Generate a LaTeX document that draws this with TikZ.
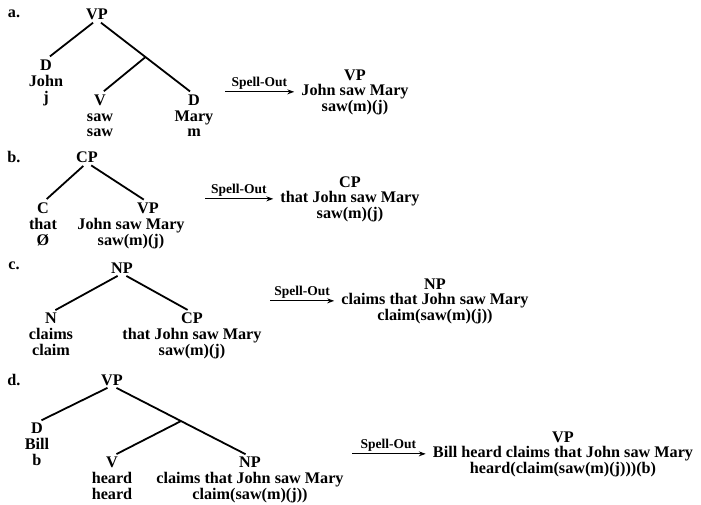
\documentclass[tikz,border=0pt]{standalone}
\usepackage{fontspec}
\setmainfont{Liberation Serif}
\usetikzlibrary{positioning,calc,arrows.meta}

\begin{document}
\begin{tikzpicture}[x=1pt,y=-1pt,
  cat/.style={inner sep=0pt,font={\bfseries\fontsize{16.2}{15.5}\selectfont\lineskiplimit-20pt\relax}},
  lex/.style={cat,align=center},
  branch/.style={line width=1.8pt,shorten <=5pt,shorten >=5pt},
  spell/.style={-{Stealth[length=7pt,width=5pt]},line width=1.1pt,shorten >=7pt},
  spelltext/.style={inner sep=0pt,font=\bfseries\fontsize{13.5}{13.5}\selectfont}]
  \useasboundingbox (0,0) rectangle (701,505);

  \foreach \l/\y in {a/14,b/157,c/266,d/380}
    \node[cat] (lab\l) at (14,\y) {\l.};

  % a.
  \node[cat] (aVP) at (97,14) {VP};
  \node[cat] (aD) at (46,65) {D};
  \node[lex,below=4.6pt of aD] (aDw) {\strut John\\j};
  \node[cat] (aV) at (100,100) {V};
  \node[lex,below=4.6pt of aV] (aVw) {\strut saw\\saw};
  \node[cat] (aDm) at (194,100) {D};
  \node[lex,below=4.6pt of aDm] (aDmw) {\strut Mary\\m};
  \coordinate (aVbar) at ($(aVP.south)!.5!(aDm.north)$);
  \draw[branch] (aVP.south) -- (aD.north);
  \draw[branch] (aVP.south) -- (aDm.north);
  \draw[branch,shorten <=0pt] (aVbar) -- (aV.north);
  \node[lex,anchor=north] (aRes) at (355,69) {\strut VP\\John saw Mary\\saw(m)(j)};
  \coordinate (aSO) at (225,0);
  \draw[spell] (aSO |- aRes.west) -- (aRes.west)
    node[spelltext,pos=.45,above=1.5pt] (aSpell) {Spell-Out};

  % b.
  \node[cat] (bCP) at (87,157) {CP};
  \node[cat] (bC) at (43,208) {C};
  \node[lex,below=4.6pt of bC] (bCw) {\strut that\\Ø};
  \node[cat] (bVP) at (148,208) {VP};
  \node[lex,below=4.6pt of bVP,xshift=-17pt] (bVPw) {\strut John saw Mary\\saw(m)(j)};
  \draw[branch] (bCP.south) -- (bC.north);
  \draw[branch] (bCP.south) -- (bVP.north);
  \node[lex,anchor=north] (bRes) at (350,176) {\strut CP\\that John saw Mary\\saw(m)(j)};
  \coordinate (bSO) at (205,0);
  \draw[spell] (bSO |- bRes.west) -- (bRes.west)
    node[spelltext,pos=.45,above=1.5pt] (bSpell) {Spell-Out};

  % c.
  \node[cat] (cNP) at (122,268) {NP};
  \node[cat] (cN) at (51,318) {N};
  \node[lex,below=4.6pt of cN] (cNw) {\strut claims\\claim};
  \node[cat] (cCP) at (192,318) {CP};
  \node[lex,below=4.6pt of cCP] (cCPw) {\strut that John saw Mary\\saw(m)(j)};
  \draw[branch] (cNP.south) -- (cN.north);
  \draw[branch] (cNP.south) -- (cCP.north);
  \node[lex,anchor=north] (cRes) at (435,278) {\strut NP\\claims that John saw Mary\\claim(saw(m)(j))};
  \coordinate (cSO) at (270,0);
  \draw[spell] (cSO |- cRes.west) -- (cRes.west)
    node[spelltext,pos=.45,above=1.5pt] (cSpell) {Spell-Out};

  % d.
  \node[cat] (dVP) at (112,380) {VP};
  \node[cat] (dD) at (37,428) {D};
  \node[lex,below=4.6pt of dD] (dDw) {\strut Bill\\b};
  \node[cat] (dV) at (112,462) {V};
  \node[lex,below=4.6pt of dV] (dVw) {\strut heard\\heard};
  \node[cat] (dNP) at (250,462) {NP};
  \node[lex,below=4.6pt of dNP] (dNPw) {\strut claims that John saw Mary\\claim(saw(m)(j))};
  \coordinate (dVbar) at ($(dVP.south)!.5!(dNP.north)$);
  \draw[branch] (dVP.south) -- (dD.north);
  \draw[branch] (dVP.south) -- (dNP.north);
  \draw[branch,shorten <=0pt] (dVbar) -- (dV.north);
  \node[lex,anchor=north] (dRes) at (563,431) {\strut VP\\Bill heard claims that John saw Mary\\heard(claim(saw(m)(j)))(b)};
  \coordinate (dSO) at (352,0);
  \draw[spell] (dSO |- dRes.west) -- (dRes.west)
    node[spelltext,pos=.45,above=1.5pt] (dSpell) {Spell-Out};
\end{tikzpicture}
\end{document}
